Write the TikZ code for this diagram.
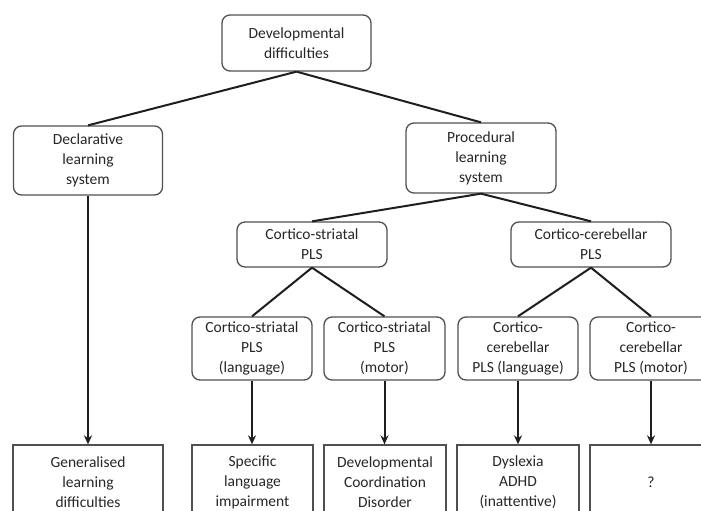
\documentclass[tikz,border=0pt]{standalone}
\usepackage{fontspec}
\setmainfont{Carlito}
\usetikzlibrary{arrows.meta}
\definecolor{boxline}{HTML}{505050}
\definecolor{inkline}{HTML}{1E1E1E}
\definecolor{textgrey}{HTML}{262626}
\tikzset{
  base/.style={draw=boxline, line width=1.3pt, align=center, inner sep=0pt,
    text=textgrey, font=\fontsize{15.5}{20}\selectfont},
  roundbox/.style={base, rounded corners=8pt},
  outbox/.style={base},
  link/.style={draw=inkline, line width=2pt},
  arrowlink/.style={link, -{Stealth[length=9pt,width=8pt]}},
}
\begin{document}
\begin{tikzpicture}[x=1pt,y=-1pt]
  \useasboundingbox (0,0) rectangle (701,511);
  \clip (0,0) rectangle (701,511);

  % level 0
  \node[roundbox, minimum width=149pt, minimum height=56pt] (dev) at (296.5,43) {Developmental\\difficulties};

  % level 1
  \node[roundbox, minimum width=149pt, minimum height=69pt] (decl) at (88,160.5) {Declarative\\learning\\system};
  \node[roundbox, minimum width=150pt, minimum height=70pt] (proc) at (481,158) {Procedural\\learning\\system};

  % level 2
  \node[roundbox, minimum width=150pt, minimum height=45pt] (cs) at (312,244.5) {Cortico-striatal\\PLS};
  \node[roundbox, minimum width=160pt, minimum height=45pt] (cc) at (591,244.5) {Cortico-cerebellar\\PLS};

  % level 3
  \node[roundbox, minimum width=120pt, minimum height=63pt] (csl) at (252,348.5) {Cortico-striatal\\PLS\\(language)};
  \node[roundbox, minimum width=121pt, minimum height=63pt] (csm) at (384.5,348.5) {Cortico-striatal\\PLS\\(motor)};
  \node[roundbox, minimum width=120pt, minimum height=63pt] (ccl) at (518,348.5) {Cortico-\\cerebellar\\PLS (language)};
  \node[roundbox, minimum width=122pt, minimum height=63pt] (ccm) at (651,348.5) {Cortico-\\cerebellar\\PLS (motor)};

  % outcomes (boxes run past the lower edge)
  \node[outbox, minimum width=150pt, minimum height=74pt] (gen) at (88,482) {Generalised\\learning\\difficulties};
  \node[outbox, minimum width=121pt, minimum height=74pt] (sli) at (252.5,482) {Specific\\language\\impairment};
  \node[outbox, minimum width=122pt, minimum height=74pt] (dcd) at (385,482) {Developmental\\Coordination\\Disorder};
  \node[outbox, minimum width=122pt, minimum height=74pt] (dys) at (518,482) {Dyslexia\\ADHD\\(inattentive)};
  \node[outbox, minimum width=122pt, minimum height=74pt] (unk) at (651,482) {?};

  % tree links
  \draw[link] (dev.south) -- (decl.north);
  \draw[link] (dev.south) -- (proc.north);
  \draw[link] (proc.south) -- (cs.north);
  \draw[link] (proc.south) -- (cc.north);
  \draw[link] (cs.south) -- (csl.north);
  \draw[link] (cs.south) -- (csm.north);
  \draw[link] (cc.south) -- (ccl.north);
  \draw[link] (cc.south) -- (ccm.north);

  % arrows to outcomes
  \draw[arrowlink] (decl.south) -- (decl.south |- gen.north);
  \draw[arrowlink] (csl.south) -- (csl.south |- sli.north);
  \draw[arrowlink] (csm.south) -- (csm.south |- dcd.north);
  \draw[arrowlink] (ccl.south) -- (ccl.south |- dys.north);
  \draw[arrowlink] (ccm.south) -- (ccm.south |- unk.north);
\end{tikzpicture}
\end{document}
